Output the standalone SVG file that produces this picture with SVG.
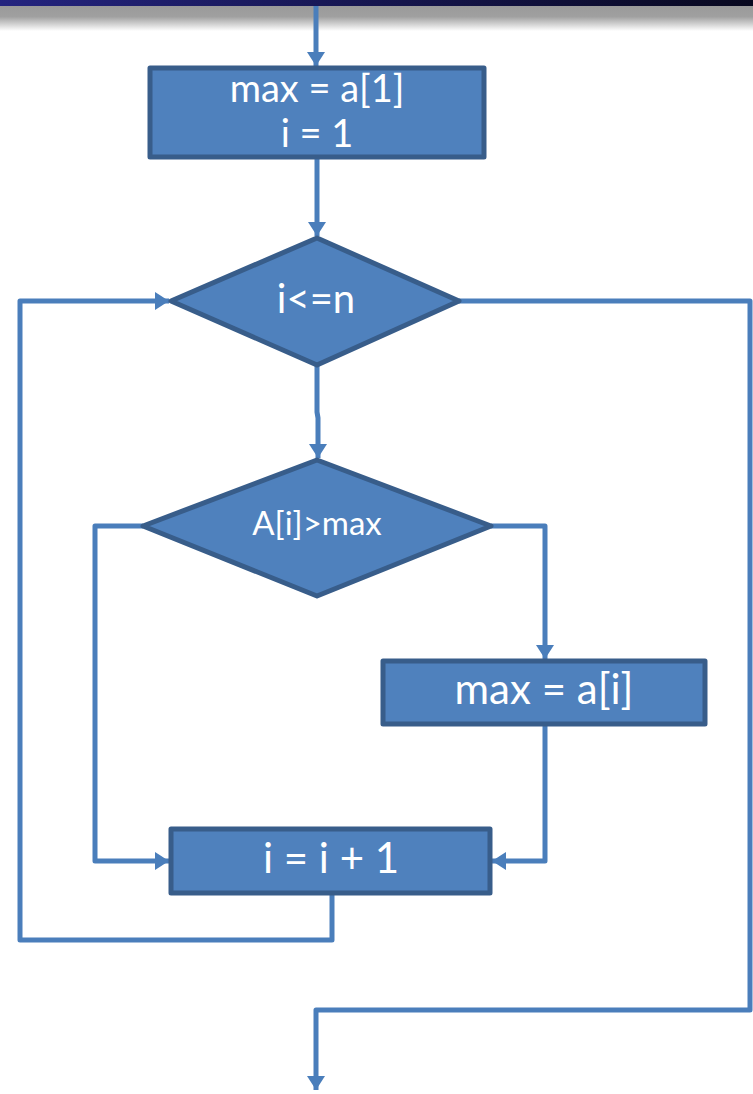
<svg xmlns="http://www.w3.org/2000/svg" width="753" height="1094" viewBox="0 0 753 1094">
<defs>
<linearGradient id="band" x1="0" y1="0" x2="1" y2="0">
<stop offset="0" stop-color="#24247f"/>
<stop offset="1" stop-color="#08081f"/>
</linearGradient>
<linearGradient id="shadow" x1="0" y1="0" x2="0" y2="1">
<stop offset="0" stop-color="#999999"/>
<stop offset="0.45" stop-color="#a0a0a0"/>
<stop offset="1" stop-color="#ffffff"/>
</linearGradient>
<marker id="arr" markerUnits="userSpaceOnUse" markerWidth="20" markerHeight="20" viewBox="0 0 20 20" refX="16" refY="10" orient="auto">
<path d="M2,1 L16,10 L2,19 Z" fill="#4a7ebb"/>
</marker>
<style>
.conn{fill:none;stroke:#4a7ebb;stroke-width:5;stroke-linejoin:round}
.node{fill:#4f81bd;stroke:#385d8a;stroke-width:5;stroke-linejoin:round}
.lbl{font-family:Lato,"Open Sans","Liberation Sans",sans-serif;fill:#ffffff;text-anchor:middle}
</style>
</defs>
<rect x="0" y="0" width="753" height="1094" fill="#ffffff"/>
<rect x="0" y="5" width="753" height="26" fill="url(#shadow)"/>
<rect x="0" y="0" width="753" height="6" fill="url(#band)"/>
<g id="connectors">
<path class="conn" d="M316,6 L316,66" marker-end="url(#arr)"/>
<path class="conn" d="M317,157 L317,236" marker-end="url(#arr)"/>
<path class="conn" d="M317,365 L317,412 L318,418 L318,458" marker-end="url(#arr)"/>
<path class="conn" d="M459,301 L750,301 L750,1010 L316,1010 L316,1090" marker-end="url(#arr)"/>
<path class="conn" d="M332,893 L332,940 L20,940 L20,301 L169,301" marker-end="url(#arr)"/>
<path class="conn" d="M143,526 L95,526 L95,861 L169,861" marker-end="url(#arr)"/>
<path class="conn" d="M491,526 L545,526 L545,659" marker-end="url(#arr)"/>
<path class="conn" d="M545,724 L545,861 L492,861" marker-end="url(#arr)"/>
</g>
<g id="init">
<rect class="node" x="150" y="68" width="334" height="89"/>
<text class="lbl" x="317" y="102" font-size="38">max = a[1]</text>
<text class="lbl" x="317" y="147" font-size="38">i = 1</text>
</g>
<g id="cond-loop">
<polygon class="node" points="317,238 459,301 317,365 171,301"/>
<text class="lbl" x="316" y="313" font-size="40">i&lt;=n</text>
</g>
<g id="cond-max">
<polygon class="node" points="317,460 491,526 317,596 143,526"/>
<text class="lbl" x="317" y="535" font-size="33">A[i]&gt;max</text>
</g>
<g id="assign-max">
<rect class="node" x="383" y="661" width="322" height="63"/>
<text class="lbl" x="544" y="704" font-size="42">max = a[i]</text>
</g>
<g id="increment">
<rect class="node" x="171" y="829" width="319" height="64"/>
<text class="lbl" x="331" y="873" font-size="42">i = i + 1</text>
</g>
</svg>
